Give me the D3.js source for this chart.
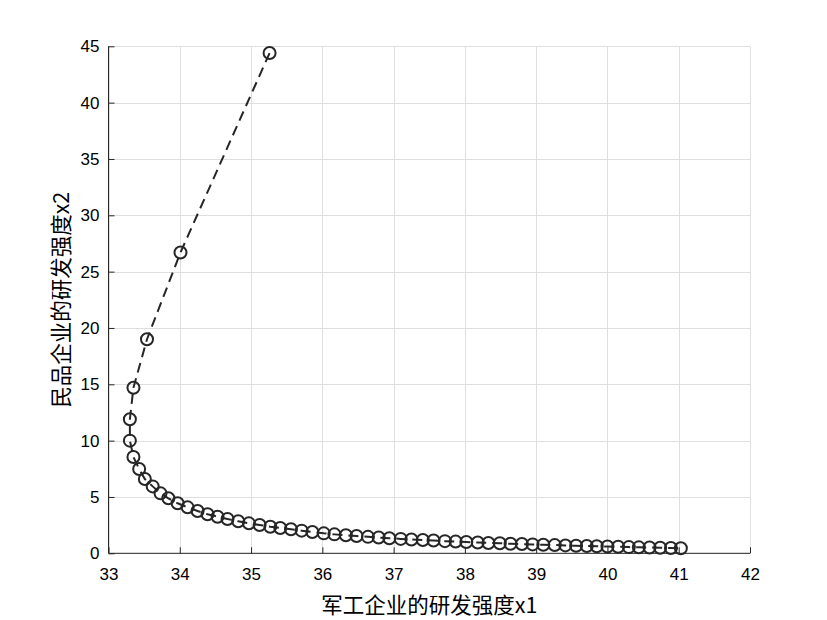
<!DOCTYPE html>
<html><head><meta charset="utf-8">
<script src="https://cdn.jsdelivr.net/npm/d3@7/dist/d3.min.js"></script>
<style>
html,body{margin:0;padding:0;background:#fff;}
svg{display:block;}
</style></head>
<body>
<svg id="chart" width="827" height="620"></svg>
<script>
// Data (x1 = 军工企业的研发强度, x2 = 民品企业的研发强度)
const x1Values = [35.26, 34.01, 33.54, 33.35, 33.30, 33.30,
  33.35, 33.43, 33.51, 33.62, 33.73, 33.84, 33.97, 34.11, 34.25, 34.39,
  34.53, 34.67, 34.82, 34.97, 35.12, 35.27, 35.41, 35.56, 35.71, 35.86,
  36.02, 36.17, 36.33, 36.48, 36.64, 36.79, 36.94, 37.10, 37.25, 37.41,
  37.56, 37.72, 37.87, 38.02, 38.18, 38.33, 38.49, 38.64, 38.80, 38.95,
  39.10, 39.26, 39.41, 39.56, 39.71, 39.85, 40.00, 40.15, 40.30, 40.44,
  40.59, 40.74, 40.89, 41.03];
const x2Values = [44.4, 26.7, 19.0, 14.7, 11.9, 10.0,
  8.55, 7.48, 6.59, 5.94, 5.32, 4.88, 4.44, 4.08, 3.75, 3.46,
  3.25, 3.04, 2.84, 2.66, 2.51, 2.36, 2.25, 2.13, 2.01, 1.89,
  1.77, 1.68, 1.60, 1.53, 1.46, 1.40, 1.34, 1.28, 1.23, 1.18,
  1.13, 1.08, 1.04, 1.00, 0.96, 0.92, 0.89, 0.85, 0.82, 0.79,
  0.76, 0.73, 0.70, 0.67, 0.65, 0.62, 0.60, 0.58, 0.55, 0.53,
  0.51, 0.49, 0.47, 0.45];
const xTicks = [33, 34, 35, 36, 37, 38, 39, 40, 41, 42];
const yTicks = [0, 5, 10, 15, 20, 25, 30, 35, 40, 45];
const xLabel = "军工企业的研发强度x1";
const yLabel = "民品企业的研发强度x2";

(function () {
const points = x1Values.map((v, i) => ({x: v, y: x2Values[i]}));

const svg = d3.select("#chart");
const pl = 108.5, pr = 750, pt = 46.3, pb = 553.3;
const x = d3.scaleLinear().domain([33, 42]).range([pl, pr]);
const y = d3.scaleLinear().domain([0, 45]).range([pb, pt]);
const axisColor = "#262626";
const tickFont = "'Liberation Sans', Arial, sans-serif";
const cjkFont = "'Noto Sans CJK SC', 'Noto Sans', sans-serif";

// grid
const grid = svg.append("g").attr("stroke", "#dfdfdf").attr("stroke-width", 1);
xTicks.forEach(t => grid.append("line")
  .attr("x1", Math.round(x(t)) + 0.5).attr("x2", Math.round(x(t)) + 0.5)
  .attr("y1", pt).attr("y2", pb));
yTicks.forEach(t => grid.append("line")
  .attr("x1", pl).attr("x2", pr)
  .attr("y1", Math.round(y(t)) + 0.5).attr("y2", Math.round(y(t)) + 0.5));

// axes (ticks inward, MATLAB-like)
const xAxis = d3.axisBottom(x).tickValues(xTicks).tickSize(-6).tickPadding(15).tickFormat(d3.format("d"));
const yAxis = d3.axisLeft(y).tickValues(yTicks).tickSize(-6).tickPadding(9).tickFormat(d3.format("d"));
const gx = svg.append("g").attr("transform", `translate(0,${pb})`).call(xAxis);
const gy = svg.append("g").attr("transform", `translate(${pl},0)`).call(yAxis);
[gx, gy].forEach(g => {
  g.attr("font-size", null).attr("font-family", null);
  g.select(".domain").attr("stroke", axisColor).attr("stroke-width", 1);
  g.selectAll(".tick line").attr("stroke", axisColor).attr("stroke-width", 1);
  g.selectAll(".tick text").attr("fill", "#000").style("font-family", tickFont).style("font-size", "17px");
});
gx.select(".domain").attr("d", `M${pl},0H${pr}`);
gy.select(".domain").attr("d", `M0,${pb}V${pt}`);

// dashed line
const line = d3.line().x(d => x(d.x)).y(d => y(d.y));
svg.append("path").datum(points)
  .attr("d", line)
  .attr("fill", "none")
  .attr("stroke", axisColor)
  .attr("stroke-width", 2)
  .attr("stroke-dasharray", "10,6");

// circle markers
svg.append("g").selectAll("circle").data(points).join("circle")
  .attr("cx", d => x(d.x)).attr("cy", d => y(d.y))
  .attr("r", 6)
  .attr("fill", "none")
  .attr("stroke", axisColor)
  .attr("stroke-width", 2);

// labels
svg.append("text").attr("x", (pl + pr) / 2).attr("y", 613)
  .attr("text-anchor", "middle").attr("fill", "#000")
  .style("font-family", cjkFont).style("font-size", "21.5px").text(xLabel);
svg.append("text").attr("transform", `translate(69,${(pt + pb) / 2}) rotate(-90)`)
  .attr("text-anchor", "middle").attr("fill", "#000")
  .style("font-family", cjkFont).style("font-size", "21.5px").text(yLabel);
})();
</script>
</body></html>
